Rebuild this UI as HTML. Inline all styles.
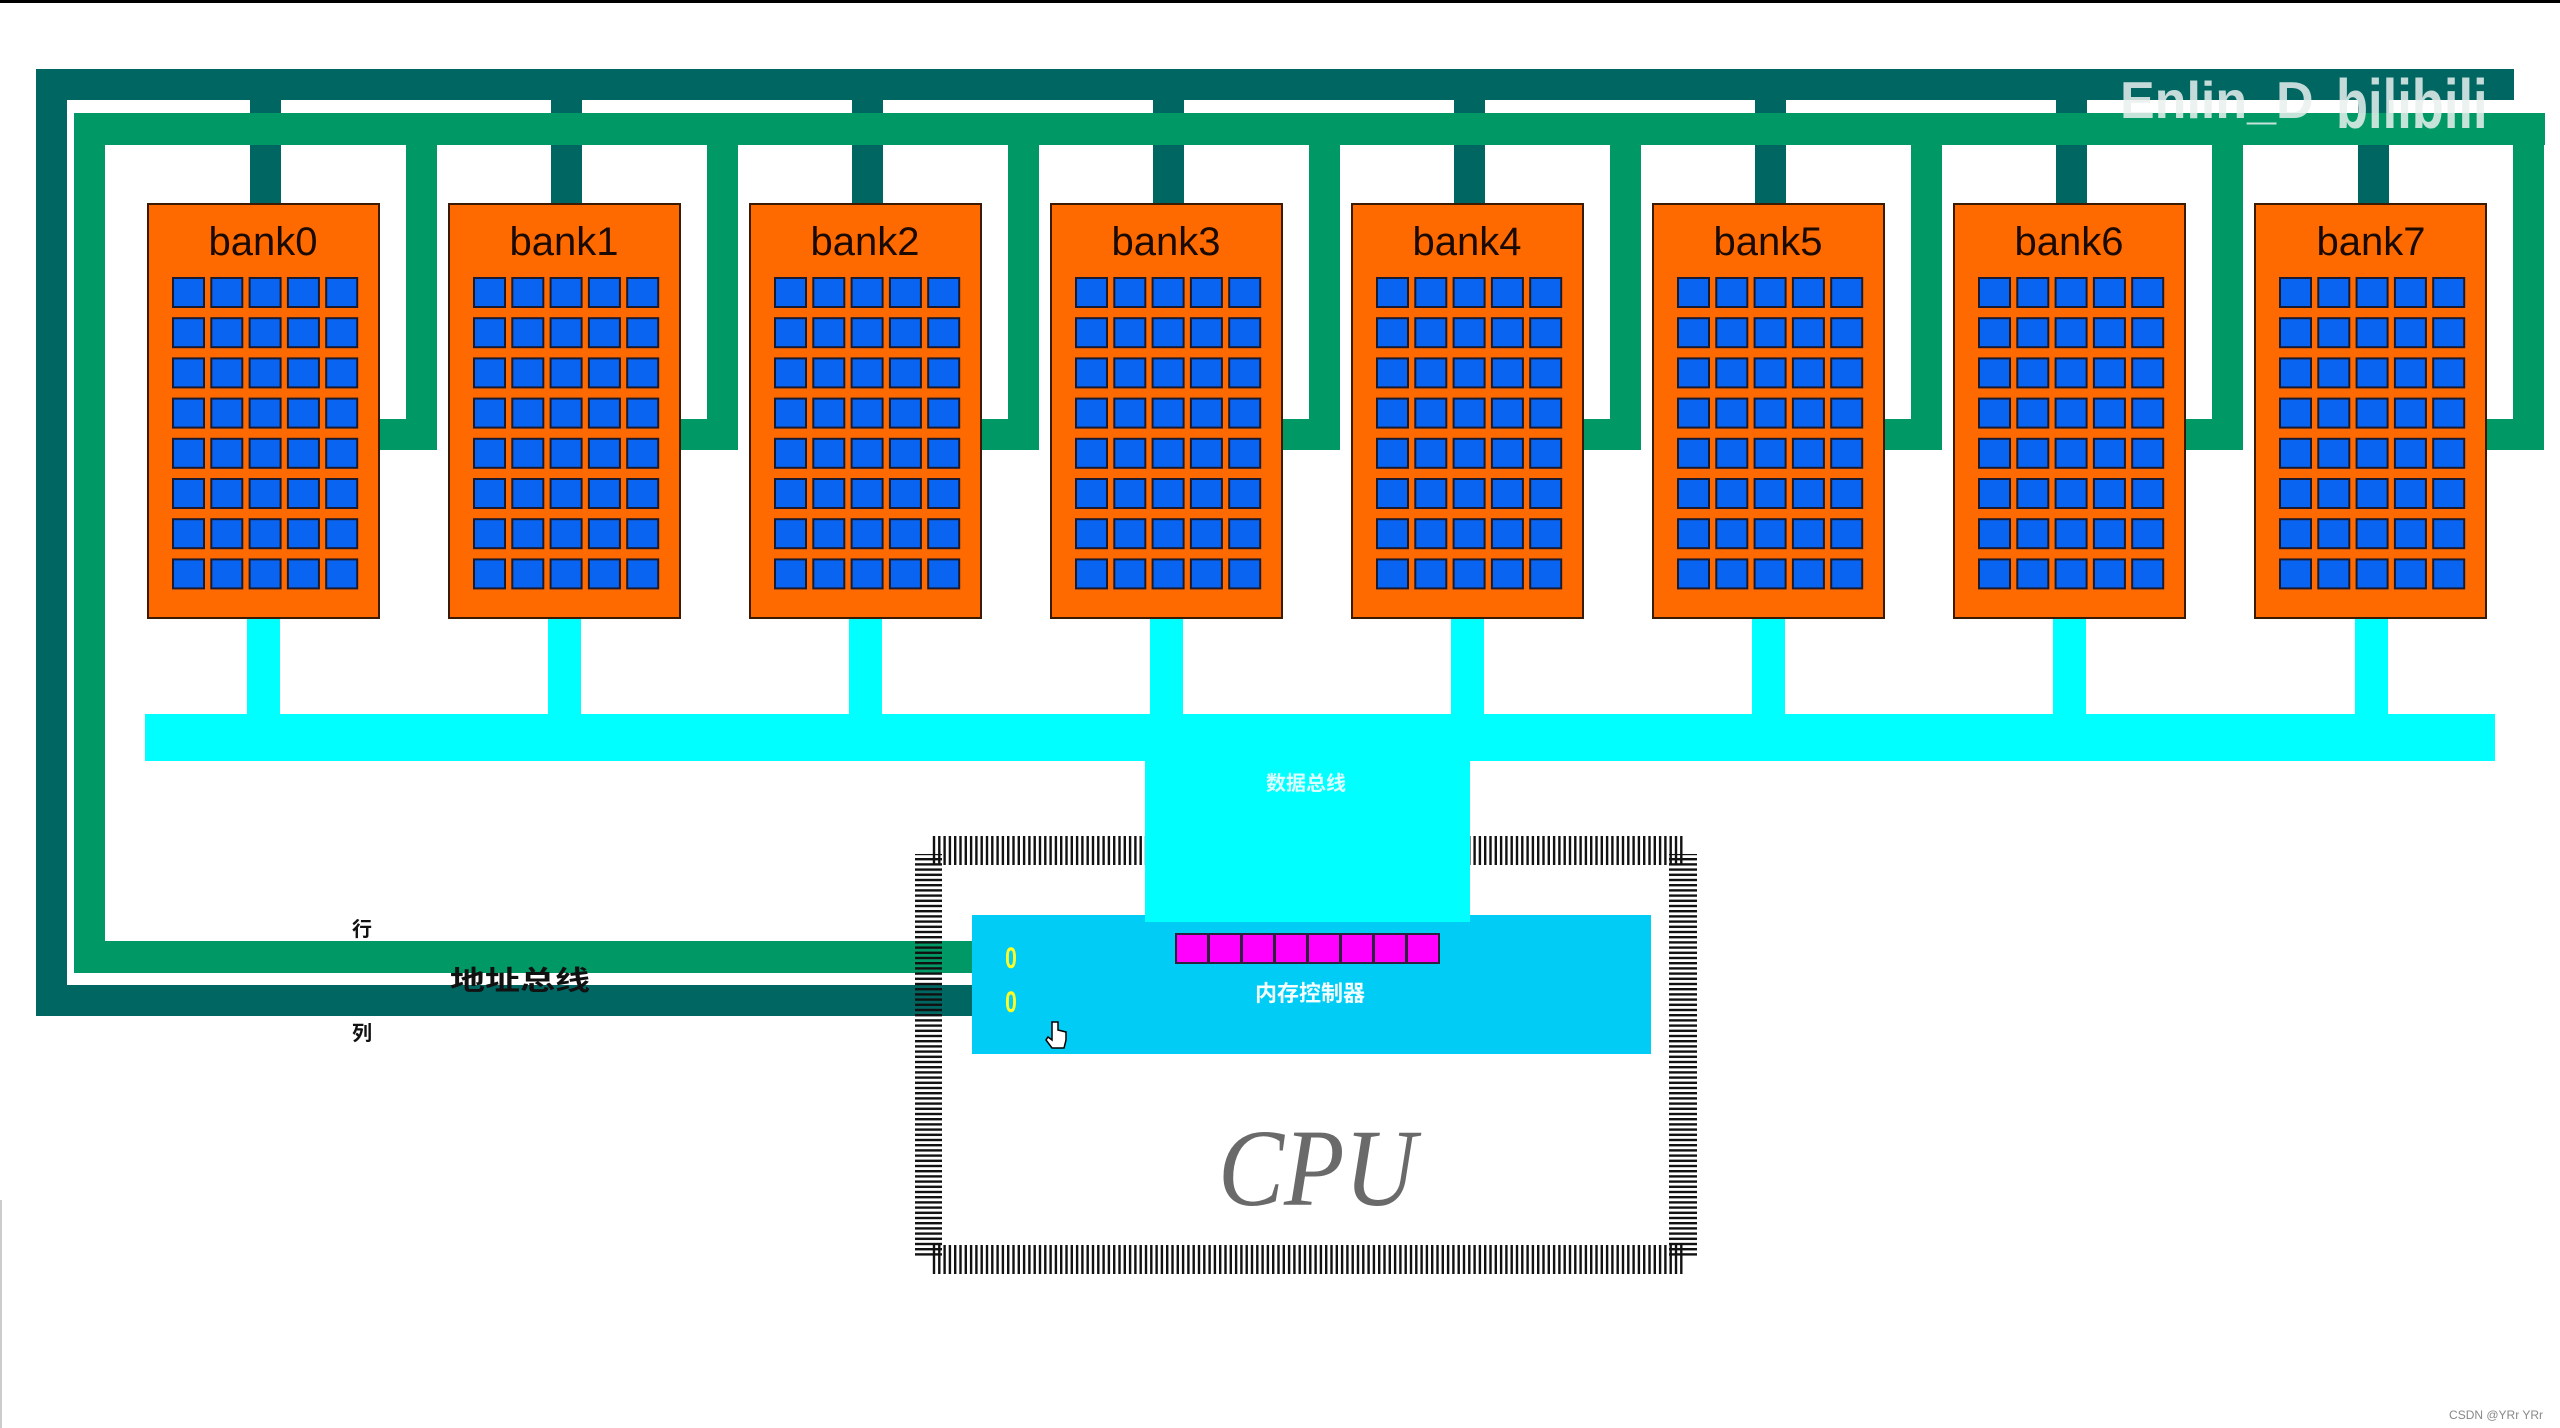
<!DOCTYPE html>
<html><head><meta charset="utf-8"><style>
html,body{margin:0;padding:0;background:#fff;width:2560px;height:1428px;overflow:hidden}
svg{display:block}
</style></head><body>
<svg width="2560" height="1428" viewBox="0 0 2560 1428" xmlns="http://www.w3.org/2000/svg">
<defs>
<pattern id="vp" x="0" y="0" width="5.3" height="10" patternUnits="userSpaceOnUse"><rect x="0" y="0" width="2.4" height="10" fill="#111"/></pattern>
<pattern id="hp" x="0" y="0" width="10" height="5.2" patternUnits="userSpaceOnUse"><rect x="0" y="0" width="10" height="2.4" fill="#111"/></pattern>
<g id="bank">
<rect x="148" y="204" width="231" height="414" fill="#ff6a00" stroke="#3a1a00" stroke-width="2"/>
<g fill="#0a64f2" stroke="#1a1a30" stroke-width="2">
<g id="row">
<rect x="173" y="278" width="31" height="29"/><rect x="211.3" y="278" width="31" height="29"/><rect x="249.6" y="278" width="31" height="29"/><rect x="287.9" y="278" width="31" height="29"/><rect x="326.2" y="278" width="31" height="29"/>
</g>
<use href="#row" y="40.2"/><use href="#row" y="80.4"/><use href="#row" y="120.6"/><use href="#row" y="160.8"/><use href="#row" y="201"/><use href="#row" y="241.2"/><use href="#row" y="281.4"/>
</g>
</g>
</defs>
<rect x="0" y="0" width="2560" height="3" fill="#000"/>
<rect x="0" y="1200" width="2" height="228" fill="#ccc"/>
<g fill="#006662">
<rect x="36" y="69" width="2478" height="31"/>
<rect x="36" y="69" width="31" height="947"/>
<rect x="36" y="985" width="951" height="31"/>
<rect x="250" y="100" width="31" height="104"/><rect x="551" y="100" width="31" height="104"/><rect x="852" y="100" width="31" height="104"/><rect x="1153" y="100" width="31" height="104"/><rect x="1454" y="100" width="31" height="104"/><rect x="1755" y="100" width="31" height="104"/><rect x="2056" y="100" width="31" height="104"/><rect x="2358" y="100" width="31" height="104"/>
</g>
<g fill="#009966">
<rect x="74" y="113" width="2471" height="32"/>
<rect x="74" y="113" width="31" height="860"/>
<rect x="74" y="941" width="913" height="32"/>
<g id="gs"><rect x="406" y="113" width="31" height="337"/><rect x="375" y="419" width="62" height="31"/></g>
<use href="#gs" x="301"/><use href="#gs" x="602"/><use href="#gs" x="903"/><use href="#gs" x="1204"/><use href="#gs" x="1505"/><use href="#gs" x="1806"/><use href="#gs" x="2107"/>
</g>
<g fill="#00ffff">
<rect x="145" y="714" width="2350" height="47"/>
<rect x="247" y="616" width="33" height="100"/><rect x="548" y="616" width="33" height="100"/><rect x="849" y="616" width="33" height="100"/><rect x="1150" y="616" width="33" height="100"/><rect x="1451" y="616" width="33" height="100"/><rect x="1752" y="616" width="33" height="100"/><rect x="2053" y="616" width="33" height="100"/><rect x="2355" y="616" width="33" height="100"/>
</g>
<use href="#bank"/><use href="#bank" x="301"/><use href="#bank" x="602"/><use href="#bank" x="903"/><use href="#bank" x="1204"/><use href="#bank" x="1505"/><use href="#bank" x="1806"/><use href="#bank" x="2107"/>
<g font-family="Liberation Sans, sans-serif" font-size="40" fill="#1a0a00" text-anchor="middle">
<text x="263" y="255">bank0</text><text x="564" y="255">bank1</text><text x="865" y="255">bank2</text><text x="1166" y="255">bank3</text><text x="1467" y="255">bank4</text><text x="1768" y="255">bank5</text><text x="2069" y="255">bank6</text><text x="2371" y="255">bank7</text>
</g>
<rect x="930" y="836" width="753" height="29" fill="url(#vp)"/>
<rect x="930" y="1245" width="753" height="29" fill="url(#vp)"/>
<rect x="915" y="854" width="27" height="402" fill="url(#hp)"/>
<rect x="1669" y="854" width="28" height="402" fill="url(#hp)"/>
<rect x="972" y="915" width="679" height="139" fill="#00ccf5"/>
<rect x="1145" y="761" width="325" height="161" fill="#00ffff"/>
<g fill="#ff00ff" stroke="#302040" stroke-width="2">
<rect x="1176" y="934" width="32" height="29"/><rect x="1209" y="934" width="32" height="29"/><rect x="1242" y="934" width="32" height="29"/><rect x="1275" y="934" width="32" height="29"/><rect x="1308" y="934" width="32" height="29"/><rect x="1341" y="934" width="32" height="29"/><rect x="1374" y="934" width="32" height="29"/><rect x="1407" y="934" width="32" height="29"/>
</g>
<g font-family="Liberation Sans, Noto Sans CJK SC, sans-serif" font-weight="bold" fill="#f4ffff" text-anchor="middle">
<text x="1306" y="790" font-size="20" opacity="0.9">数据总线</text>
<text x="1310" y="1001" font-size="22">内存控制器</text>
</g>
<g font-family="Liberation Sans, sans-serif" font-weight="bold" font-size="30" fill="#ffff22" text-anchor="middle">
<text x="1011" y="968" transform="translate(1011 0) scale(0.7 1) translate(-1011 0)">0</text><text x="1011" y="1012" transform="translate(1011 0) scale(0.7 1) translate(-1011 0)">0</text>
</g>
<path d="M1052 1022 l0 18 l-4 -3 l-2 3 l6 8 l12 0 l2 -8 l0 -8 l-8 -2 l0 -8 z" fill="#fff" stroke="#000" stroke-width="1.5"/>
<text x="1317" y="1205" font-family="Liberation Serif, serif" font-style="italic" font-size="110" fill="#6a6a6a" text-anchor="middle" transform="translate(1317 0) scale(0.9 1) translate(-1317 0)">CPU</text>
<g font-family="Liberation Sans, Noto Sans CJK SC, sans-serif" font-weight="bold" fill="#111">
<text x="352" y="936" font-size="20">行</text>
<text x="352" y="1040" font-size="20">列</text>
<text x="520" y="990" font-size="27" text-anchor="middle" transform="translate(520 0) scale(1.3 1) translate(-520 0)">地址总线</text>
</g>
<g font-family="Liberation Sans, sans-serif" font-weight="bold" fill="#e8f0ee" opacity="0.85">
<text x="2120" y="118" font-size="52">Enlin_D</text>
<text x="2336" y="128" font-size="70" transform="translate(2336 0) scale(0.75 1) translate(-2336 0)">bilibili</text>
</g>
<text x="2543" y="1419" font-family="Liberation Sans, sans-serif" font-size="12" fill="#888" text-anchor="end">CSDN @YRr YRr</text>
</svg>
</body></html>
